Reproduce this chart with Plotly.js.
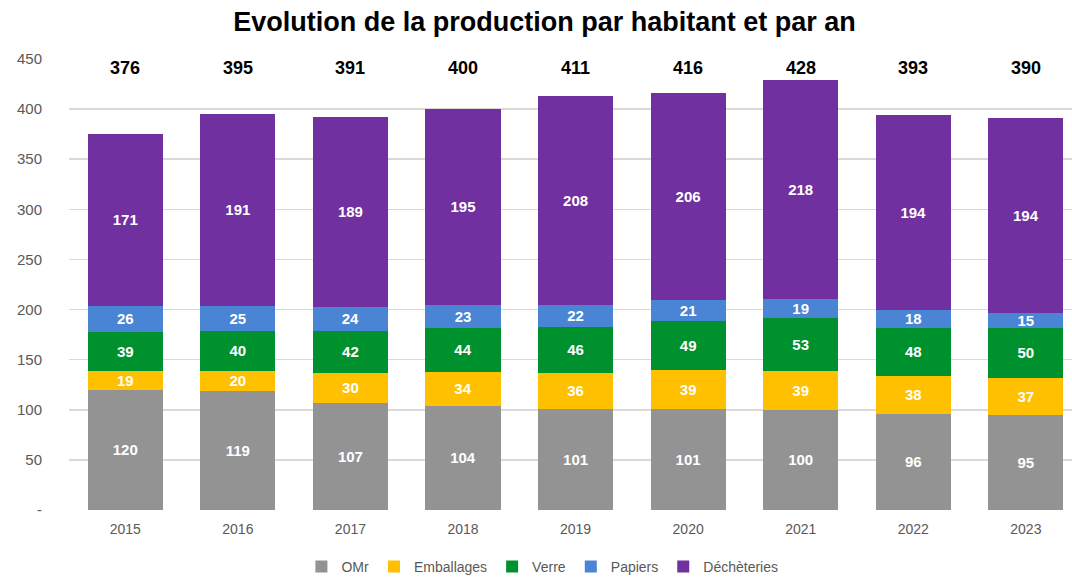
<!DOCTYPE html>
<html>
<head>
<meta charset="utf-8">
<script src="https://cdn.plot.ly/plotly-3.0.1.min.js"></script>
<style>html,body{margin:0;padding:0;background:#fff;}#chart{width:1072px;height:579px;}</style>
</head>
<body>
<div id="chart"></div>
<script>
const years = ['2015','2016','2017','2018','2019','2020','2021','2022','2023'];
const omr = [120,119,107,104,101,101,100,96,95];
const emballages = [19,20,30,34,36,39,39,38,37];
const verre = [39,40,42,44,46,49,53,48,50];
const papiers = [26,25,24,23,22,21,19,18,15];
const decheteries = [171,191,189,195,208,206,218,194,194];
const totals = [376,395,391,400,411,416,428,393,390];
const yTickVals = [0,50,100,150,200,250,300,350,400,450];
const yTickText = ['-','50','100','150','200','250','300','350','400','450'];

const seriesDefs = [
  {name:'OMr', values:omr, color:'#939393'},
  {name:'Emballages', values:emballages, color:'#FFC000'},
  {name:'Verre', values:verre, color:'#00912F'},
  {name:'Papiers', values:papiers, color:'#4A84D4'},
  {name:'Déchèteries', values:decheteries, color:'#7030A0'}
];

const FONT = 'Liberation Sans, Arial, sans-serif';

const traces = seriesDefs.map(s => ({
  type:'bar',
  name:s.name,
  x:years,
  y:s.values,
  marker:{color:s.color, line:{width:0}},
  text:s.values.map(String),
  textposition:'inside',
  insidetextanchor:'middle',
  constraintext:'none',
  textangle:0,
  textfont:{family:FONT, size:15, color:'#ffffff', weight:'bold'},
  hoverinfo:'x+y+name'
}));

const annotations = years.map((yr,i) => ({
  x:i, y:441, xref:'x', yref:'y',
  text:'<b>' + String(totals[i]) + '</b>', showarrow:false,
  font:{family:FONT, size:18, color:'#000000'},
  xanchor:'center', yanchor:'middle'
}));

const layout = {
  width:1072, height:579,
  paper_bgcolor:'#ffffff', plot_bgcolor:'#ffffff',
  margin:{l:69, r:0, t:59, b:69, pad:0, autoexpand:false},
  barmode:'stack',
  bargap:0.333,
  title:{text:'<b>Evolution de la production par habitant et par an</b>', x:0.508, xanchor:'center', y:0.962, yanchor:'middle',
    font:{family:FONT, size:27, color:'#000000'}},
  font:{family:FONT, color:'#595959'},
  xaxis:{type:'category', range:[-0.5, 8.41], showgrid:false, zeroline:false, showline:false, ticks:'',
    ticklabelstandoff:9, automargin:false,
    tickfont:{family:FONT, size:14, color:'#595959'}, fixedrange:true},
  yaxis:{range:[0,450], tickvals:yTickVals, ticktext:yTickText, showgrid:true, gridcolor:'#D9D9D9', gridwidth:1.5,
    zeroline:false, showline:false, ticks:'', ticklabelstandoff:26, automargin:false,
    tickfont:{family:FONT, size:15, color:'#595959'}, fixedrange:true},
  legend:{orientation:'h', x:0.472, xanchor:'center', y:-0.126, yanchor:'middle',
    font:{family:FONT, size:14, color:'#595959'}, itemwidth:30, traceorder:'normal'},
  annotations:annotations,
  showlegend:true
};

Plotly.newPlot('chart', traces, layout, {displayModeBar:false, staticPlot:true});
</script>
</body>
</html>
